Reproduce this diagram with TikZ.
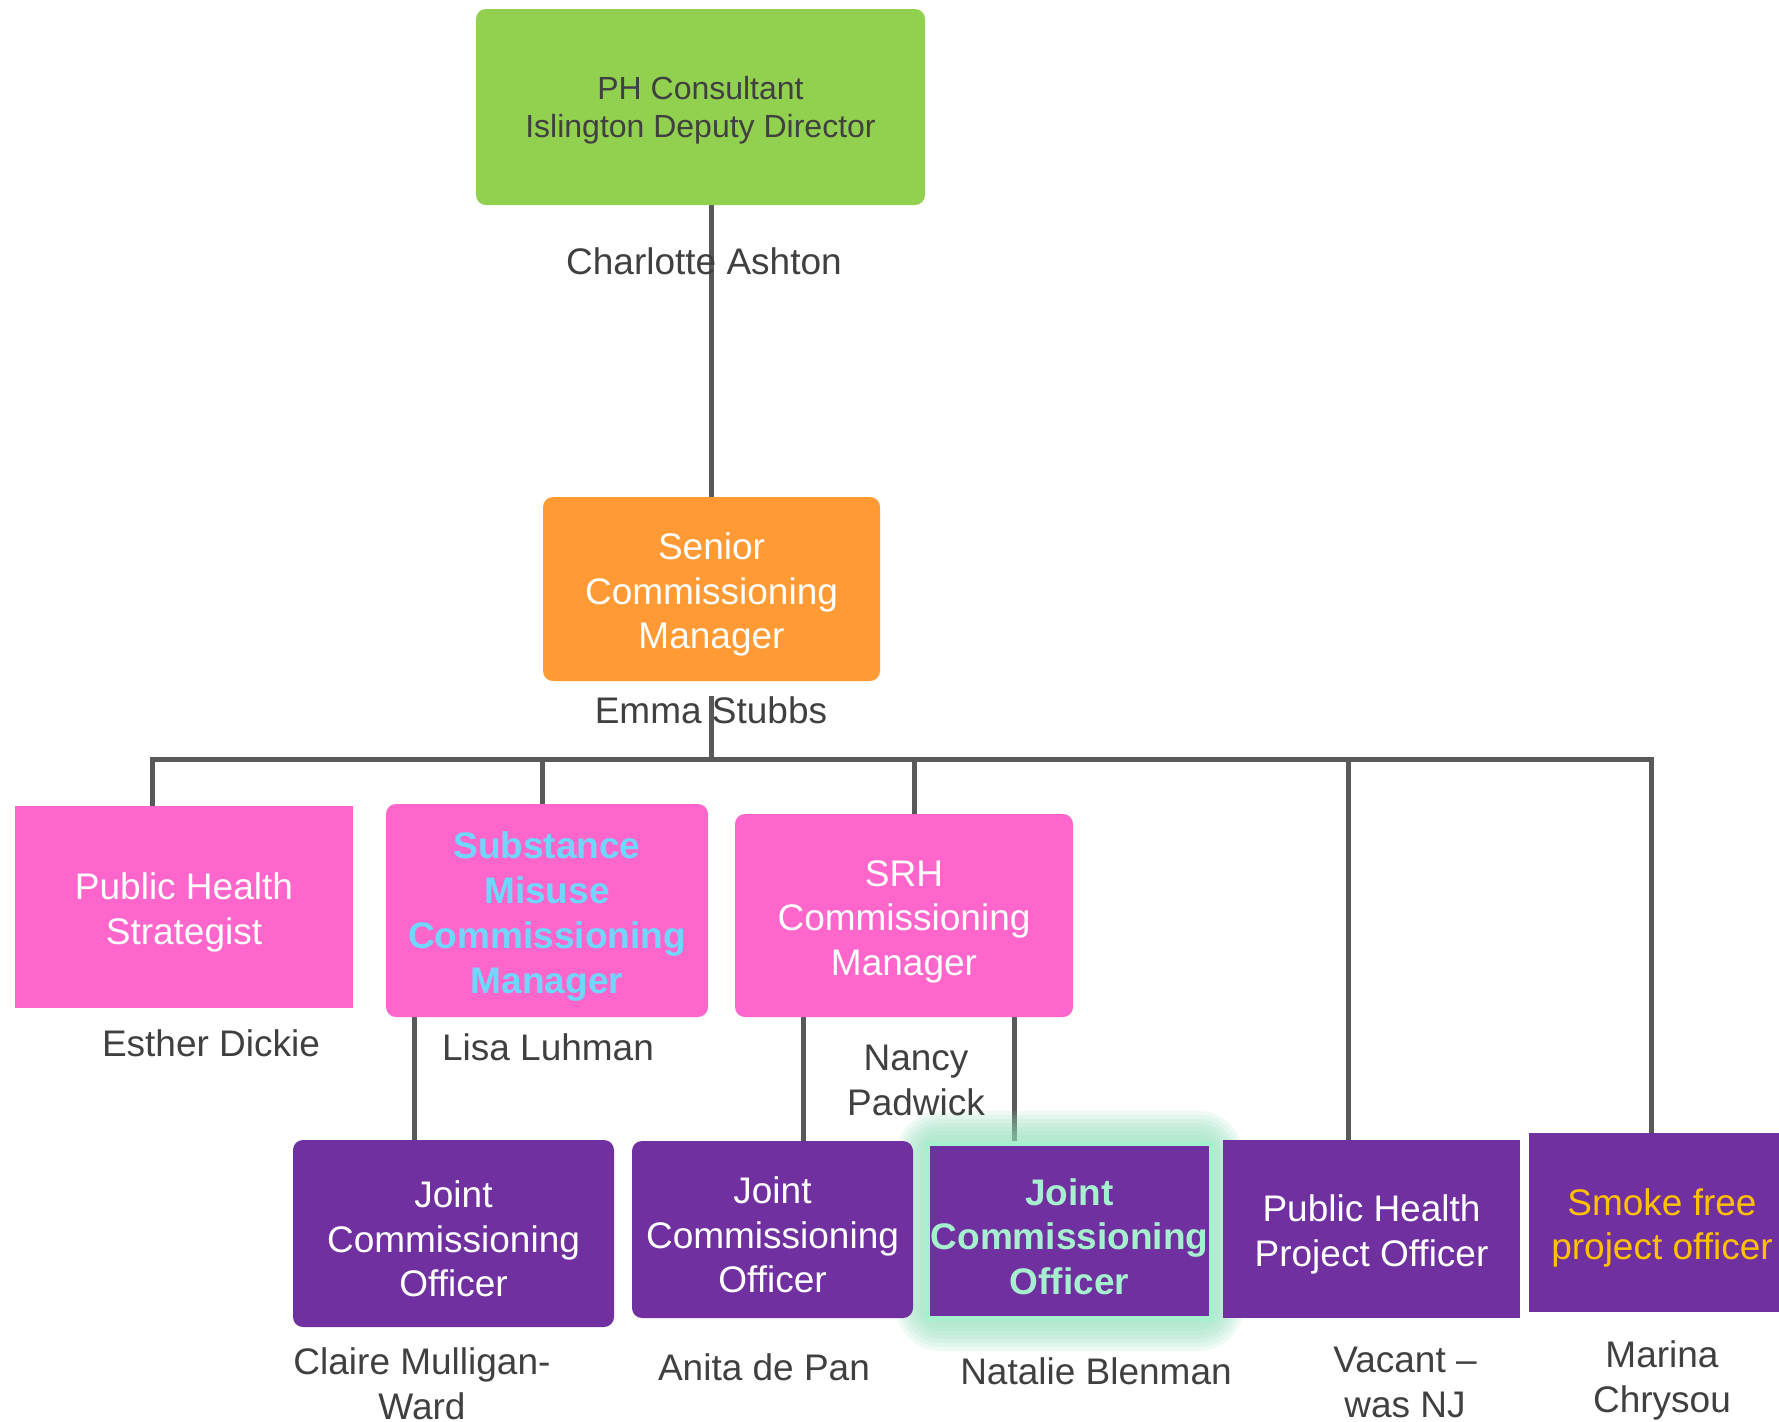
\documentclass[tikz,border=0pt]{standalone}
\usepackage{fontspec}
\setmainfont{Liberation Sans}
\usetikzlibrary{backgrounds}
\definecolor{pcgreen}{HTML}{92D050}
\definecolor{scorange}{HTML}{FF9A35}
\definecolor{phpink}{HTML}{FF66CC}
\definecolor{jcpurple}{HTML}{7030A0}
\definecolor{smblue}{HTML}{70D6FA}
\definecolor{jcmint}{HTML}{A6F0CF}
\definecolor{jcglow}{HTML}{8EDDB8}
\definecolor{sfgold}{HTML}{FFC000}
\definecolor{lnk}{HTML}{595959}
\definecolor{nametxt}{HTML}{404040}
\tikzset{
  box/.style={fill=#1, inner sep=0pt, align=center, text=white,
    font=\fontsize{18.5}{22.3}\selectfont},
  rbox/.style={box=#1, rounded corners=5pt},
  two/.style={text height=41.3pt},
  three/.style={text height=63.6pt},
  who/.style={anchor=base, inner sep=0pt, align=center, text=nametxt,
    font=\fontsize{18.5}{22.3}\selectfont},
  conn/.style={draw=lnk, line width=2.5pt},
}

\begin{document}
\begin{tikzpicture}[x=0.5pt, y=-0.5pt]
\useasboundingbox (0,0) rectangle (1779,1421);
% top
\node[rbox=pcgreen, text=nametxt, font=\fontsize{16}{19.3}\selectfont, text height=34.3pt,
  minimum width=224.5pt, minimum height=98pt] (pc) at (700.5,107)
  {PH Consultant\\Islington Deputy Director};
\node[who] (ca) at (704,274) {Charlotte Ashton};
\node[rbox=scorange, three, minimum width=168.5pt, minimum height=92pt] (scm) at (711.5,589)
  {Senior\\Commissioning\\Manager};
\node[who] (es) at (711,723) {Emma Stubbs};
% managers
\node[box=phpink, two, minimum width=169pt, minimum height=101pt] (phs) at (184,907)
  {Public Health\\Strategist};
\node[who] (ed) at (211,1056) {Esther Dickie};
\node[rbox=phpink, text=smblue, font=\fontsize{18.5}{22.5}\selectfont\bfseries, text height=86.5pt,
  minimum width=161pt, minimum height=106.5pt] (smm) at (547,910.5)
  {Substance\\Misuse\\Commissioning\\Manager};
\node[who] (ll) at (548,1060) {Lisa Luhman};
\node[rbox=phpink, three, minimum width=169pt, minimum height=101.5pt] (srh) at (904,915.5)
  {SRH\\Commissioning\\Manager};
\node[who] (np) at (916,1115) {Nancy\\Padwick};
% officers
\node[rbox=jcpurple, three, minimum width=160.5pt, minimum height=93.5pt] (jco1) at (453.5,1233.5)
  {Joint\\Commissioning\\Officer};
\node[who] (cm) at (422,1419) {Claire Mulligan-\\Ward};
\node[rbox=jcpurple, three, minimum width=140.5pt, minimum height=88.5pt] (jco2) at (772.5,1229.5)
  {Joint\\Commissioning\\Officer};
\node[who] (ap) at (764,1380) {Anita de Pan};
\node[box=jcpurple, three, draw=jcmint, line width=2.5pt, text=jcmint,
  font=\fontsize{18.5}{22.3}\selectfont\bfseries,
  minimum width=142pt, minimum height=87.5pt] (jco3) at (1069.5,1231)
  {Joint\\Commissioning\\Officer};
\node[who] (nb) at (1096,1384) {Natalie Blenman};
\node[box=jcpurple, two, minimum width=148.5pt, minimum height=89pt] (pho) at (1371.5,1229)
  {Public Health\\Project Officer};
\node[who] (vc) at (1405,1417) {Vacant --\\was NJ};
\node[box=jcpurple, two, text=sfgold, minimum width=133pt, minimum height=89.5pt] (sfo) at (1662,1222.5)
  {Smoke free\\project officer};
\node[who] (mc) at (1662,1412) {Marina\\Chrysou};
% drop points
\coordinate (bus) at (711,759);
\coordinate (d1) at (152,759);
\coordinate (d2) at (542,759);
\coordinate (d3) at (914,759);
\coordinate (d4) at (1348,759);
\coordinate (d5) at (1651,759);
\coordinate (s1) at (414,0);
\coordinate (s2) at (803,0);
\coordinate (s3) at (1014,0);
\begin{scope}[on background layer]
\draw[conn] (pc.south -| scm.north) -- (scm.north);
\draw[conn] (es.north -| bus) -- (bus);
\draw[conn] (d1 |- phs.north) -- (d1) -- (d5) -- (d5 |- sfo.north);
\draw[conn] (d2) -- (d2 |- smm.north);
\draw[conn] (d3) -- (d3 |- srh.north);
\draw[conn] (d4) -- (d4 |- pho.north);
\draw[conn] (s1 |- smm.south) -- (s1 |- jco1.north);
\draw[conn] (s2 |- srh.south) -- (s2 |- jco2.north);
\draw[conn] (s3 |- srh.south) -- (s3 |- jco3.north);
% glow
\foreach \w in {30pt,26pt,22pt,18pt,14pt,10pt,6pt}
  \draw[jcglow, line width=\w, opacity=0.14, rounded corners=8pt]
    (jco3.south west) rectangle (jco3.north east);
\end{scope}
\end{tikzpicture}
\end{document}
